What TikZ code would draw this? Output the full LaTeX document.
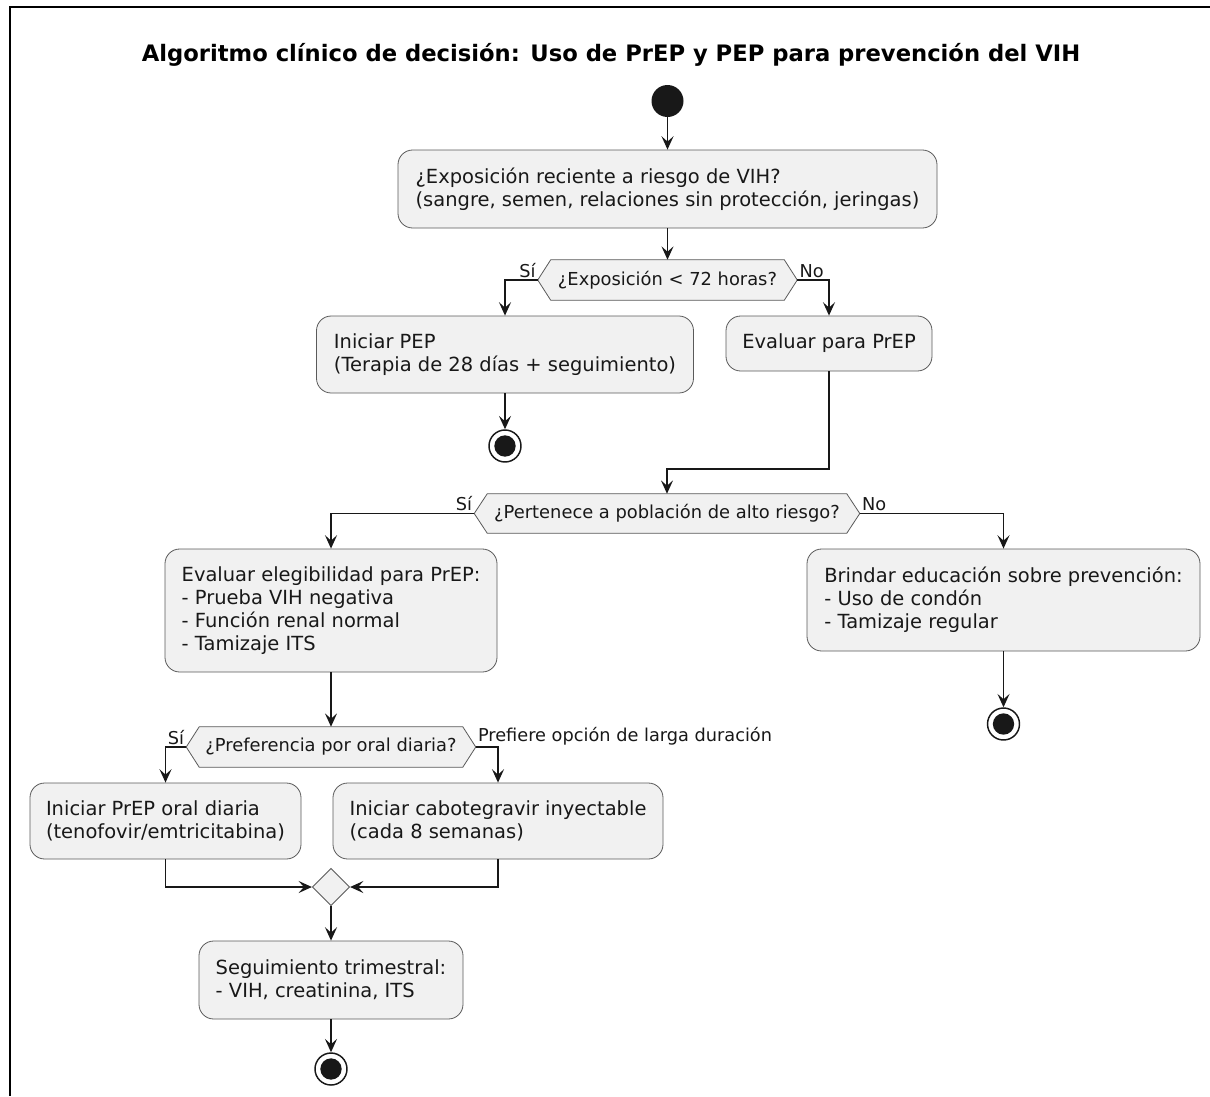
\documentclass[tikz,border=0pt]{standalone}
\usepackage{fontspec}
\setmainfont{DejaVu Sans}
\usetikzlibrary{arrows.meta,shapes.geometric,calc}
\pgfdeclarelayer{bg}\pgfsetlayers{bg,main}
\definecolor{boxfill}{HTML}{F1F1F1}
\definecolor{ink}{HTML}{181818}
\definecolor{edge}{HTML}{5A5A5A}
\tikzset{
  box/.style={draw=edge, fill=boxfill, line width=0.6pt, rounded corners=11pt,
    font=\fontsize{14.6}{17.2}\selectfont, align=left, inner sep=0pt, text=ink},
  dec/.style={inner sep=0pt, font=\fontsize{13.4}{16}\selectfont, text=ink},
  lbl/.style={inner sep=1.5pt, font=\fontsize{13.3}{15}\selectfont, text=ink},
  arr/.style={draw=ink, line width=1.2pt, -{Stealth[length=10pt,width=9pt,inset=4pt]}},
  startc/.style={circle, fill=ink, minimum size=24pt, inner sep=0pt},
  endc/.style={circle, draw=ink, line width=1.1pt, fill=white, minimum size=24pt, inner sep=0pt,
    path picture={\fill[ink] (path picture bounding box.center) circle (8pt);}},
  merge/.style={diamond, draw=edge, fill=boxfill, line width=0.6pt, minimum size=28pt, inner sep=0pt},
  frame/.style={draw=black, line width=1.8pt},
}
\newcommand\hexbg[2]{%
  \begin{pgfonlayer}{bg}
  \draw[draw=edge, fill=boxfill, line width=0.6pt] (#1.west) -- ([xshift=#2]#1.north west)
    -- ([xshift=-#2]#1.north east) -- (#1.east) -- ([xshift=-#2]#1.south east)
    -- ([xshift=#2]#1.south west) -- cycle;
  \end{pgfonlayer}}
\begin{document}
\begin{tikzpicture}[x=0.75pt,y=-0.75pt]
\useasboundingbox (0,0) rectangle (1210,1096);
\draw[frame] (1210,7) -- (10,7) -- (10,1096);

\node[font=\fontsize{17}{20}\selectfont\bfseries, text=black] (title) at (611,55)
  {Algoritmo clínico de decisión: Uso de PrEP y PEP para prevención del VIH};

\node[startc] (start) at (667.5,101) {};

\node[box, minimum width=539*0.75pt, minimum height=78*0.75pt] (b1) at (667.5,189)
  {¿Exposición reciente a riesgo de VIH?\\(sangre, semen, relaciones sin protección, jeringas)};

\node[dec, minimum width=259*0.75pt, minimum height=40*0.75pt] (d1) at (667.5,280) {¿Exposición < 72 horas?};
\hexbg{d1}{9.75pt}

\node[box, minimum width=377*0.75pt, minimum height=77*0.75pt] (b2) at (505,354.5)
  {Iniciar PEP\\(Terapia de 28 días + seguimiento)};
\node[box, minimum width=206*0.75pt, minimum height=55*0.75pt] (b3) at (829,343.5)
  {Evaluar para PrEP};
\node[endc] (e1) at (505,446) {};

\coordinate (m1) at (667,469);
\node[dec, minimum width=385*0.75pt, minimum height=39*0.75pt] (d2) at (667,513.5)
  {¿Pertenece a población de alto riesgo?};
\hexbg{d2}{9.75pt}

\node[box, minimum width=332*0.75pt, minimum height=123*0.75pt] (b4) at (331,610.5)
  {Evaluar elegibilidad para PrEP:\\- Prueba VIH negativa\\- Función renal normal\\- Tamizaje ITS};
\node[box, minimum width=393*0.75pt, minimum height=102*0.75pt] (b5) at (1003.5,600)
  {Brindar educación sobre prevención:\\- Uso de condón\\- Tamizaje regular};
\node[endc] (e2) at (1003.5,724) {};

\node[dec, minimum width=289*0.75pt, minimum height=40*0.75pt] (d3) at (331,747)
  {¿Preferencia por oral diaria?};
\hexbg{d3}{9.75pt}

\node[box, minimum width=271*0.75pt, minimum height=76*0.75pt] (b6) at (165.5,821)
  {Iniciar PrEP oral diaria\\(tenofovir/emtricitabina)};
\node[box, minimum width=330*0.75pt, minimum height=76*0.75pt] (b7) at (498,821)
  {Iniciar cabotegravir inyectable\\(cada 8 semanas)};

\node[merge] (mg) at (331,887) {};

\node[box, minimum width=264*0.75pt, minimum height=78*0.75pt] (b8) at (331,980)
  {Seguimiento trimestral:\\- VIH, creatinina, ITS};
\node[endc] (e3) at (331,1069) {};

% labels
\node[lbl, anchor=south east] at (d1.west) {Sí};
\node[lbl, anchor=south west] at (d1.east) {No};
\node[lbl, anchor=south east] at (d2.west) {Sí};
\node[lbl, anchor=south west] at (d2.east) {No};
\node[lbl, anchor=south east] at (d3.west) {Sí};
\node[lbl, anchor=south west] at (d3.east) {Prefiere opción de larga duración};

% connectors
\draw[arr] (start) -- (b1);
\draw[arr] (b1) -- (d1);
\draw[arr] (d1.west) -| (b2.north);
\draw[arr] (d1.east) -| (b3.north);
\draw[arr] (b2) -- (e1);
\draw[arr] (b3.south) |- (m1) -- (d2.north);
\draw[arr] (d2.west) -| (b4.north);
\draw[arr] (d2.east) -| (b5.north);
\draw[arr] (b5) -- (e2);
\draw[arr] (b4) -- (d3);
\draw[arr] (d3.west) -| (b6.north);
\draw[arr] (d3.east) -| (b7.north);
\draw[arr] (b6.south) |- (mg.west);
\draw[arr] (b7.south) |- (mg.east);
\draw[arr] (mg) -- (b8);
\draw[arr] (b8) -- (e3);
\end{tikzpicture}
\end{document}
